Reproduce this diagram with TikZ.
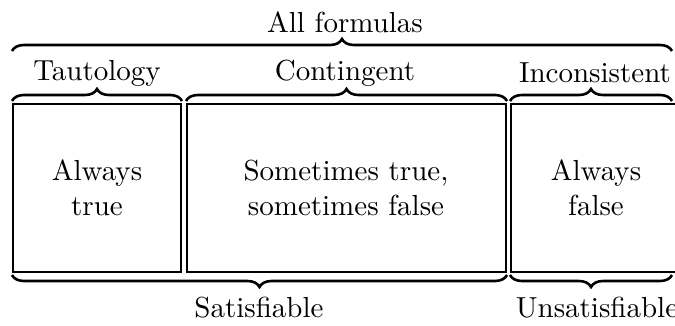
\documentclass[tikz,border=0pt]{standalone}
\usepackage{fontspec}
\setmainfont{lmroman10-regular}[Extension=.otf]
\usetikzlibrary{decorations.pathreplacing}
\begin{document}
\begin{tikzpicture}[x=1pt,y=-1pt,
  every node/.style={font=\fontsize{29pt}{35pt}\selectfont, inner sep=0pt},
  cell/.style={draw, line width=2pt},
  bup/.style={decorate, line width=2.6pt, decoration={brace, amplitude=12pt}},
  bdown/.style={decorate, line width=2.6pt, decoration={brace, mirror, amplitude=12pt}}]
\useasboundingbox (0,0) rectangle (675,325);
\clip (0,0) rectangle (675,325);
% boxes
\draw[cell] (13,104) rectangle (181,272);
\draw[cell] (187,104) rectangle (506,272);
\draw[cell] (511,104) rectangle (690,272);
% box texts
\node[align=center] (t1) at (97,188) {Always\\true};
\node[align=center] (t2) at (346,188) {Sometimes true,\\sometimes false};
\node[align=center] (t3) at (596,188) {Always\\false};
% top brace
\node (all) at (345,22) {All formulas};
\draw[bup] (12,51) -- (672,51);
% second row
\node (taut) at (97,73) {Tautology};
\node (cont) at (345,73) {Contingent};
\node (inc) at (595,73) {Inconsistent};
\draw[bup] (12,101) -- (182,101);
\draw[bup] (186,101) -- (507,101);
\draw[bup] (510,101) -- (672,101);
% bottom
\draw[bdown] (12,275) -- (507,275);
\draw[bdown] (510,275) -- (672,275);
\node (sat) at (259,308) {Satisfiable};
\node (unsat) at (597,308) {Unsatisfiable};
\end{tikzpicture}
\end{document}
